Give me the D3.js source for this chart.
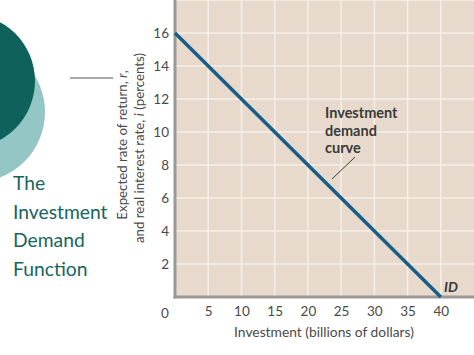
<!DOCTYPE html>
<html><head><meta charset="utf-8">
<script src="https://cdn.jsdelivr.net/npm/d3@7"></script>
<style>
html,body{margin:0;padding:0;background:#fff;}
svg{display:block;font-family:Lato,"Open Sans",sans-serif;}
</style></head>
<body>
<script>
const investment = [0, 5, 10, 15, 20, 25, 30, 35, 40];
const rate = [16, 14, 12, 10, 8, 6, 4, 2, 0];
const xTicks = [5, 10, 15, 20, 25, 30, 35, 40];
const yTicks = [2, 4, 6, 8, 10, 12, 14, 16];
const titleLines = ["The", "Investment", "Demand", "Function"];
const annoLines = ["Investment", "demand", "curve"];

const W = 474, H = 355;
const svg = d3.select("body").append("svg").attr("width", W).attr("height", H);

// decoration circles
svg.append("circle").attr("cx", -25).attr("cy", 112).attr("r", 70).attr("fill", "#93c6c4");
svg.append("circle").attr("cx", -32).attr("cy", 81).attr("r", 67).attr("fill", "#0f625c");
svg.append("line").attr("x1", 70).attr("x2", 113).attr("y1", 78).attr("y2", 78)
  .attr("stroke", "#555").attr("stroke-width", 1.2);

svg.append("g").selectAll("text").data(titleLines).join("text")
  .attr("x", 13).attr("y", (d, i) => 190 + i * 28.5)
  .attr("fill", "#17655f").attr("font-size", 19.3).text(d => d);

const x = d3.scaleLinear().domain([0, 45]).range([175, 474]);
const y = d3.scaleLinear().domain([0, 18]).range([297, 0]);

// plot background
svg.append("rect").attr("x", x(0)).attr("y", y(18)).attr("width", x(45) - x(0)).attr("height", y(0) - y(18))
  .attr("fill", "#e7dacd");

// grid
svg.append("g").selectAll("line").data(xTicks).join("line")
  .attr("x1", d => x(d)).attr("x2", d => x(d)).attr("y1", y(0)).attr("y2", y(18))
  .attr("stroke", "#f6efe7").attr("stroke-width", 1.5);
svg.append("g").selectAll("line").data(yTicks.concat([18])).join("line")
  .attr("x1", x(0)).attr("x2", x(45)).attr("y1", d => y(d)).attr("y2", d => y(d))
  .attr("stroke", "#f6efe7").attr("stroke-width", 1.5);

// axes lines
svg.append("line").attr("x1", x(0)).attr("x2", x(0)).attr("y1", y(18)).attr("y2", y(0) + 1.5)
  .attr("stroke", "#9c9895").attr("stroke-width", 3);
svg.append("line").attr("x1", x(0) - 1.5).attr("x2", x(45)).attr("y1", y(0)).attr("y2", y(0))
  .attr("stroke", "#9c9895").attr("stroke-width", 3);

// axis labels via d3 axes
const xAxis = svg.append("g").attr("transform", `translate(0,${y(0)})`)
  .call(d3.axisBottom(x).tickValues(xTicks).tickSize(0).tickPadding(9));
const yAxis = svg.append("g").attr("transform", `translate(${x(0)},0)`)
  .call(d3.axisLeft(y).tickValues(yTicks).tickSize(0).tickPadding(6));
[xAxis, yAxis].forEach(a => {
  a.select(".domain").remove();
  a.selectAll("text").attr("font-family", "Lato, 'Open Sans', sans-serif").attr("font-size", 13.5).attr("fill", "#4a4a4a");
});
svg.append("text").attr("x", 165).attr("y", y(0) + 21).attr("text-anchor", "middle")
  .attr("font-size", 13.5).attr("fill", "#4a4a4a").text("0");

// axis titles
svg.append("text").attr("x", 324).attr("y", 337).attr("text-anchor", "middle")
  .attr("font-size", 13.8).attr("fill", "#4a4a4a").text("Investment (billions of dollars)");
const yt = svg.append("text").attr("transform", "translate(127,145) rotate(-90)")
  .attr("text-anchor", "middle").attr("font-size", 13.3).attr("fill", "#4a4a4a");
yt.append("tspan").text("Expected rate of return, ");
yt.append("tspan").attr("font-style", "italic").text("r");
yt.append("tspan").text(",");
const yt2 = svg.append("text").attr("transform", "translate(144,148) rotate(-90)")
  .attr("text-anchor", "middle").attr("font-size", 13.3).attr("fill", "#4a4a4a");
yt2.append("tspan").text("and real interest rate, ");
yt2.append("tspan").attr("font-style", "italic").text("i");
yt2.append("tspan").text(" (percents)");

// demand line
const line = d3.line().x((d, i) => x(investment[i])).y(d => y(d));
svg.append("path").datum(rate).attr("d", line).attr("fill", "none")
  .attr("stroke", "#195d88").attr("stroke-width", 3.5);

// annotation
svg.append("g").selectAll("text").data(annoLines).join("text")
  .attr("x", 325).attr("y", (d, i) => 118 + i * 17.5)
  .attr("font-size", 14.5).attr("font-weight", "bold").attr("fill", "#3a3a3a").text(d => d);
svg.append("line").attr("x1", 355).attr("y1", 157).attr("x2", 332).attr("y2", 179)
  .attr("stroke", "#3a3a3a").attr("stroke-width", 1);
svg.append("text").attr("x", 444).attr("y", 292).attr("font-size", 14)
  .attr("font-weight", "bold").attr("font-style", "italic").attr("fill", "#3a3a3a").text("ID");
</script>
</body></html>
